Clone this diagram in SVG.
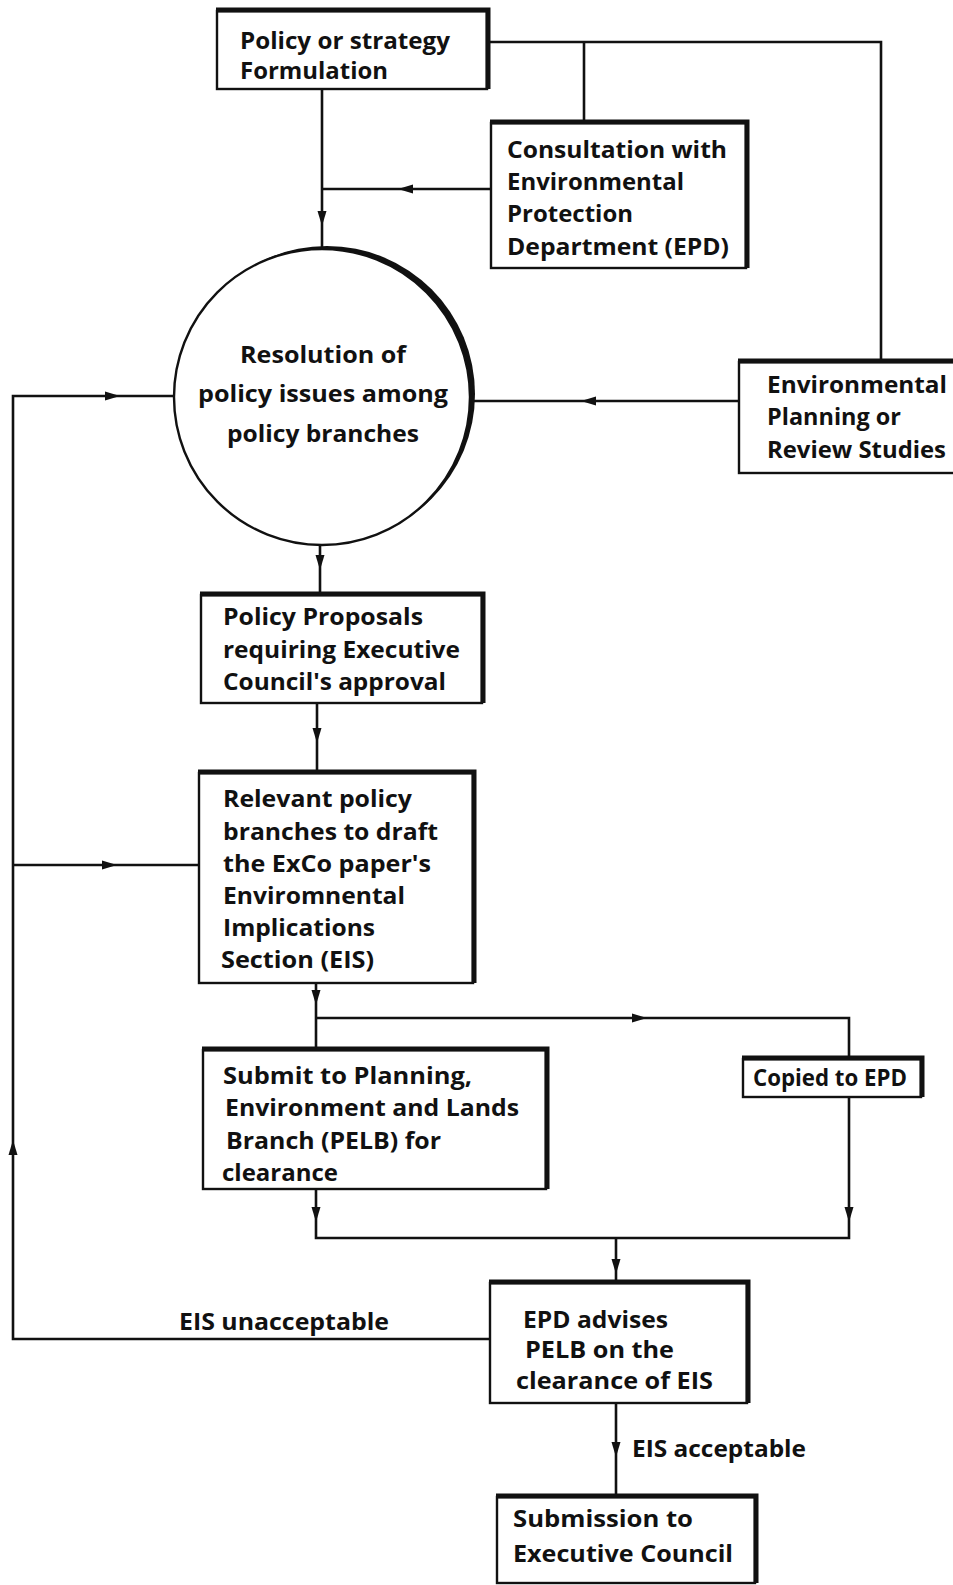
<svg xmlns="http://www.w3.org/2000/svg" xmlns:xlink="http://www.w3.org/1999/xlink" width="953" height="1585" viewBox="0 0 953 1585">
<style>
.bg{fill:#fff}
.box{fill:#fff;stroke:#111;stroke-width:2.4}
.sh{fill:none;stroke:#111;stroke-width:5;stroke-linejoin:miter}
.ln{fill:none;stroke:#111;stroke-width:2.6;stroke-linejoin:miter}
.t{font-family:"Open Sans","Liberation Sans",sans-serif;font-weight:700;font-size:23px;fill:#111}
.ah{fill:#111}
</style>
<defs>
<path id="ah" class="ah" d="M0,0 L-15,-4.5 L-15,4.5 Z"/>
</defs>
<rect class="bg" x="0" y="0" width="953" height="1585"/>

<g id="connectors">
<path class="ln" d="M487,42 H881 V362"/>
<path class="ln" d="M584,42 V123"/>
<path class="ln" d="M322,89 V249"/>
<use xlink:href="#ah" transform="translate(322,226) rotate(90)"/>
<path class="ln" d="M491,189 H322"/>
<use xlink:href="#ah" transform="translate(398,189) rotate(180)"/>
<path class="ln" d="M739,401 H474"/>
<use xlink:href="#ah" transform="translate(581,401) rotate(180)"/>
<path class="ln" d="M174,396 H13 V1339 H490"/>
<use xlink:href="#ah" transform="translate(120,396)"/>
<use xlink:href="#ah" transform="translate(13,1140) rotate(-90)"/>
<path class="ln" d="M13,865 H199"/>
<use xlink:href="#ah" transform="translate(117,865)"/>
<path class="ln" d="M320,545 V595"/>
<use xlink:href="#ah" transform="translate(320,570) rotate(90)"/>
<path class="ln" d="M317,703 V773"/>
<use xlink:href="#ah" transform="translate(317,743) rotate(90)"/>
<path class="ln" d="M316,983 V1050"/>
<use xlink:href="#ah" transform="translate(316,1005) rotate(90)"/>
<path class="ln" d="M316,1018 H849 V1059"/>
<use xlink:href="#ah" transform="translate(647,1018)"/>
<path class="ln" d="M316,1189 V1238 H849 V1097"/>
<use xlink:href="#ah" transform="translate(316,1222) rotate(90)"/>
<use xlink:href="#ah" transform="translate(849,1222) rotate(90)"/>
<path class="ln" d="M616,1238 V1283"/>
<use xlink:href="#ah" transform="translate(616,1274) rotate(90)"/>
<path class="ln" d="M616,1403 V1497"/>
<use xlink:href="#ah" transform="translate(616,1457) rotate(90)"/>
<text class="t" x="179" y="1330" textLength="210" lengthAdjust="spacingAndGlyphs">EIS unacceptable</text>
<text class="t" x="632" y="1457" textLength="174" lengthAdjust="spacingAndGlyphs">EIS acceptable</text>
</g>

<g id="policy-formulation">
<rect class="box" x="217" y="11" width="270" height="78"/>
<path class="sh" d="M216,10 H488 V89"/>
<text class="t" x="240" y="49" textLength="210" lengthAdjust="spacingAndGlyphs">Policy or strategy</text>
<text class="t" x="240" y="79" textLength="148" lengthAdjust="spacingAndGlyphs">Formulation</text>
</g>

<g id="consultation-epd">
<rect class="box" x="491" y="123" width="255" height="145"/>
<path class="sh" d="M490,122 H747 V268"/>
<text class="t" x="507" y="158" textLength="220" lengthAdjust="spacingAndGlyphs">Consultation with</text>
<text class="t" x="507" y="190" textLength="177" lengthAdjust="spacingAndGlyphs">Environmental</text>
<text class="t" x="507" y="222" textLength="126" lengthAdjust="spacingAndGlyphs">Protection</text>
<text class="t" x="507" y="255" textLength="222" lengthAdjust="spacingAndGlyphs">Department (EPD)</text>
</g>

<g id="resolution">
<circle class="ah" cx="327" cy="394" r="148"/>
<circle class="box" cx="322" cy="397" r="148"/>
<text class="t" x="323" y="363" text-anchor="middle" textLength="166" lengthAdjust="spacingAndGlyphs">Resolution of</text>
<text class="t" x="323" y="402" text-anchor="middle" textLength="250" lengthAdjust="spacingAndGlyphs">policy issues among</text>
<text class="t" x="323" y="442" text-anchor="middle" textLength="192" lengthAdjust="spacingAndGlyphs">policy branches</text>
</g>

<g id="env-planning">
<rect class="box" x="739" y="362" width="230" height="111"/>
<path class="sh" d="M738,361 H960"/>
<text class="t" x="767" y="393" textLength="180" lengthAdjust="spacingAndGlyphs">Environmental</text>
<text class="t" x="767" y="425" textLength="134" lengthAdjust="spacingAndGlyphs">Planning or</text>
<text class="t" x="767" y="458" textLength="179" lengthAdjust="spacingAndGlyphs">Review Studies</text>
</g>

<g id="policy-proposals">
<rect class="box" x="201" y="595" width="281" height="108"/>
<path class="sh" d="M200,594 H483 V703"/>
<text class="t" x="223" y="625" textLength="200" lengthAdjust="spacingAndGlyphs">Policy Proposals</text>
<text class="t" x="223" y="658" textLength="237" lengthAdjust="spacingAndGlyphs">requiring Executive</text>
<text class="t" x="223" y="690" textLength="223" lengthAdjust="spacingAndGlyphs">Council's approval</text>
</g>

<g id="draft-eis">
<rect class="box" x="199" y="773" width="274" height="210"/>
<path class="sh" d="M198,772 H474 V983"/>
<text class="t" x="223" y="807" textLength="189" lengthAdjust="spacingAndGlyphs">Relevant policy</text>
<text class="t" x="223" y="840" textLength="215" lengthAdjust="spacingAndGlyphs">branches to draft</text>
<text class="t" x="223" y="872" textLength="208" lengthAdjust="spacingAndGlyphs">the ExCo paper's</text>
<text class="t" x="223" y="904" textLength="182" lengthAdjust="spacingAndGlyphs">Enviromnental</text>
<text class="t" x="223" y="936" textLength="152" lengthAdjust="spacingAndGlyphs">Implications</text>
<text class="t" x="221" y="968" textLength="153" lengthAdjust="spacingAndGlyphs">Section (EIS)</text>
</g>

<g id="submit-pelb">
<rect class="box" x="203" y="1050" width="343" height="139"/>
<path class="sh" d="M202,1049 H547 V1189"/>
<text class="t" x="223" y="1084" textLength="249" lengthAdjust="spacingAndGlyphs">Submit to Planning,</text>
<text class="t" x="225" y="1116" textLength="294" lengthAdjust="spacingAndGlyphs">Environment and Lands</text>
<text class="t" x="226" y="1149" textLength="215" lengthAdjust="spacingAndGlyphs">Branch (PELB) for</text>
<text class="t" x="222" y="1181" textLength="116" lengthAdjust="spacingAndGlyphs">clearance</text>
</g>

<g id="copied-epd">
<rect class="box" x="743" y="1059" width="178" height="38"/>
<path class="sh" d="M742,1058 H922 V1097"/>
<text class="t" x="753" y="1086" textLength="154" lengthAdjust="spacingAndGlyphs">Copied to EPD</text>
</g>

<g id="epd-advises">
<rect class="box" x="490" y="1283" width="257" height="120"/>
<path class="sh" d="M489,1282 H748 V1403"/>
<text class="t" x="523" y="1328" textLength="145" lengthAdjust="spacingAndGlyphs">EPD advises</text>
<text class="t" x="525" y="1358" textLength="149" lengthAdjust="spacingAndGlyphs">PELB on the</text>
<text class="t" x="516" y="1389" textLength="197" lengthAdjust="spacingAndGlyphs">clearance of EIS</text>
</g>

<g id="submission-exco">
<rect class="box" x="497" y="1497" width="258" height="86"/>
<path class="sh" d="M496,1496 H756 V1583"/>
<text class="t" x="513" y="1527" textLength="180" lengthAdjust="spacingAndGlyphs">Submission to</text>
<text class="t" x="513" y="1562" textLength="220" lengthAdjust="spacingAndGlyphs">Executive Council</text>
</g>
</svg>
